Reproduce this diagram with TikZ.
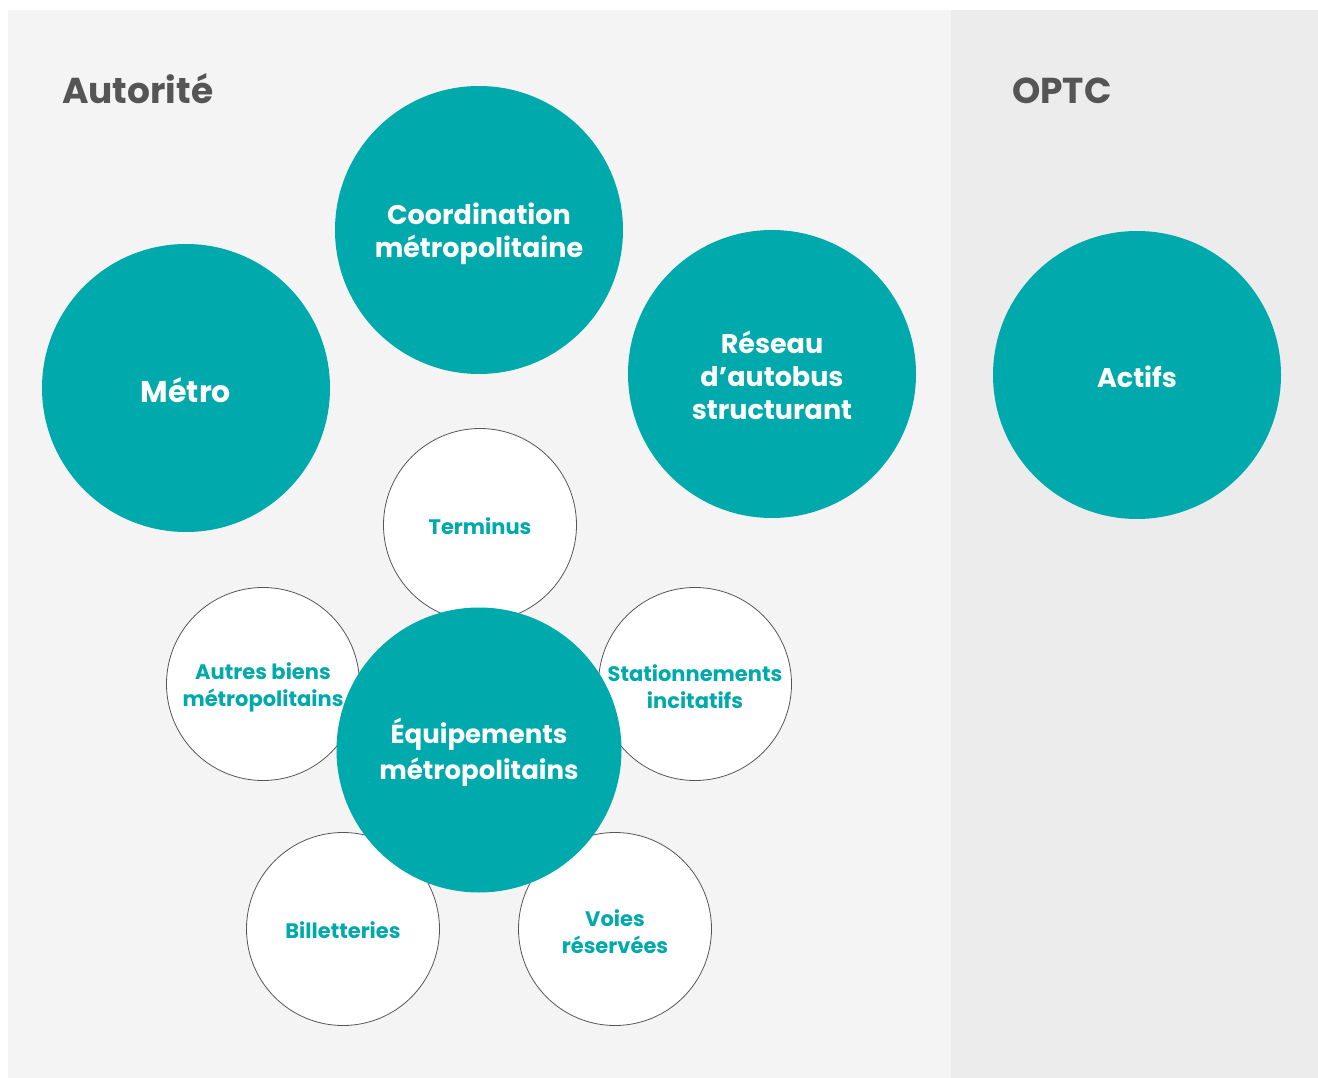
\documentclass[tikz,border=0pt]{standalone}
\usepackage{fontspec}
\setmainfont{Poppins}
\definecolor{tealc}{HTML}{00A9AC}
\definecolor{panelL}{HTML}{F4F4F4}
\definecolor{panelR}{HTML}{ECECEC}
\definecolor{titlec}{HTML}{555555}
\definecolor{ringc}{HTML}{555555}
\tikzset{
  bigc/.style={circle, fill=tealc, draw=none, minimum size=288pt, inner sep=0pt},
  smallc/.style={circle, fill=white, draw=ringc, line width=0.8pt, minimum size=193pt, inner sep=0pt},
  bigt/.style={inner sep=0pt, align=center, text=white, font=\fontsize{27}{33}\selectfont\bfseries},
  smallt/.style={inner sep=0pt, align=center, text=tealc, font=\fontsize{21}{27}\selectfont\bfseries},
  title/.style={anchor=base west, text=titlec, inner sep=0pt, font=\fontsize{36}{40}\selectfont\bfseries}
}
\begin{document}
\begin{tikzpicture}[x=1pt,y=-1pt]
\useasboundingbox (0,0) rectangle (1318,1078);
\fill[white] (0,0) rectangle (1318,1078);
\fill[panelL] (8,10) rectangle (951,1078);
\fill[panelR] (951,10) rectangle (1318,1078);
\node[title] (tAut) at (62,104) {Autorité};
\node[title] (tOPTC) at (1012,104) {OPTC};
\node[bigc] (coord) at (479,230) {};
\node[bigc] (metro) at (186,388) {};
\node[bigc] (reseau) at (772,374) {};
\node[bigc] (actifs) at (1137,375) {};
\node[bigt] (coordT) at ([yshift=-4pt]coord.center) {Coordination\\métropolitaine};
\node[bigt, font=\fontsize{30}{33}\selectfont\bfseries] (metroT) at ([yshift=-2pt]metro.center) {Métro};
\node[bigt] (reseauT) at ([yshift=-1pt]reseau.center) {Réseau\\d’autobus\\structurant};
\node[bigt] (actifsT) at ([yshift=-2pt]actifs.center) {Actifs};
\node[smallc] (term) at (480,525) {};
\node[smallc] (autres) at (263,684) {};
\node[smallc] (station) at (695,684) {};
\node[smallc] (billet) at (343,929) {};
\node[smallc] (voies) at (615,929) {};
\node[smallt] (termT) at ([yshift=-1pt]term.center) {Terminus};
\node[smallt] (autresT) at ([yshift=-3pt]autres.center) {Autres biens\\métropolitains};
\node[smallt] (stationT) at ([yshift=-3pt]station.center) {Stationnements\\incitatifs};
\node[smallt] (billetT) at ([yshift=-1pt]billet.center) {Billetteries};
\node[smallt] (voiesT) at ([yshift=-3pt]voies.center) {Voies\\réservées};
\node[bigc, minimum size=285pt] (equip) at (479,750) {};
\node[bigt, font=\fontsize{26}{36}\selectfont\bfseries] (equipT) at ([yshift=-2pt]equip.center) {Équipements\\métropolitains};
\end{tikzpicture}
\end{document}
